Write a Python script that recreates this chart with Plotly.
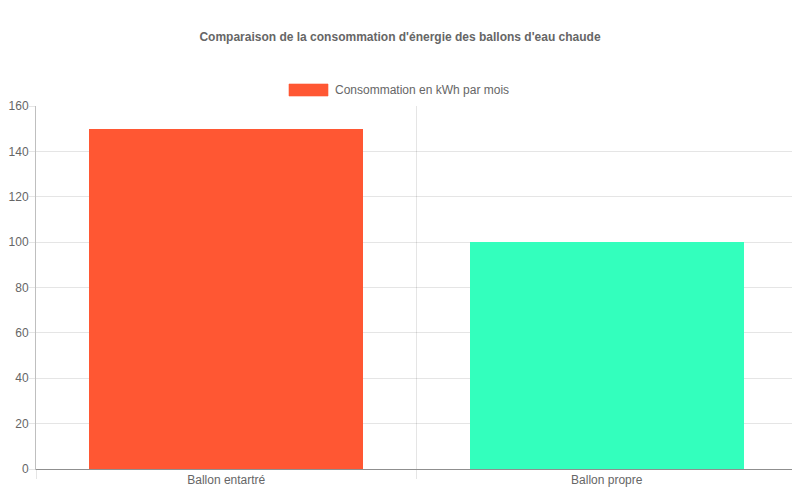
import plotly.graph_objects as go

categories = ["Ballon entartré", "Ballon propre"]
consumption = [150, 100]
bar_colors = ["#FF5733", "#33FFBD"]
series_name = "Consommation en kWh par mois"
title_text = "Comparaison de la consommation d'énergie des ballons d'eau chaude"

# page body adds an 8px margin, so shift everything by that
OFF = 8
W, H = 800, 500
# plot area wanted on screen: x 36..797, y 106..469
L, T = 36 - OFF, 106 - OFF
pw, ph = 761, 363
R, B = W - L - pw, H - T - ph

def px_x(p):
    return (p - OFF - L) / pw

def px_y(p):
    return (T + ph - (p - OFF)) / ph

grid = "rgba(0,0,0,0.1)"
axis_dark = "rgba(0,0,0,0.25)"

fig = go.Figure()
fig.add_trace(go.Bar(
    x=categories, y=consumption, name=series_name,
    marker=dict(color=bar_colors, line=dict(width=0)),
    width=0.72, showlegend=False,
))

# chart.js-like legend: wide colour box + label
fig.add_shape(type="rect", xref="paper", yref="paper",
              x0=px_x(289), x1=px_x(328), y0=px_y(96), y1=px_y(84),
              fillcolor=bar_colors[0], line=dict(width=1, color="rgba(255,87,51,0.6)"))
fig.add_annotation(text=series_name, xref="paper", yref="paper",
                   x=px_x(333), y=px_y(90), xanchor="left", yanchor="middle",
                   showarrow=False, font=dict(size=12, color="#666"))

# last category boundary line on the right edge
fig.add_shape(type="line", xref="paper", yref="paper",
              x0=0.999, x1=0.999, y0=px_y(478), y1=1,
              line=dict(color=grid, width=1))

fig.update_layout(
    width=W, height=H,
    margin=dict(l=L, r=R, t=T, b=B, autoexpand=False),
    paper_bgcolor="white", plot_bgcolor="white",
    font=dict(family="Liberation Sans, Arial, sans-serif", size=12, color="#666"),
    title=dict(text="<b>" + title_text + "</b>", x=(400 - OFF) / W, xanchor="center",
               y=1 - (37 - OFF) / H, yanchor="middle", font=dict(size=12, color="#666")),
    showlegend=False,
    bargap=0,
)
fig.update_xaxes(
    automargin=False,
    tickson="boundaries", ticks="outside", ticklen=9, tickcolor=grid,
    showgrid=True, gridcolor=grid, gridwidth=1,
    showline=True, linecolor=axis_dark, mirror=False,
    tickfont=dict(size=12, color="#666"),
)
fig.update_yaxes(
    automargin=False,
    range=[0, 160], dtick=20, ticks="outside", ticklen=6, tickcolor=grid,
    ticklabelstandoff=-2,
    showgrid=True, gridcolor=grid, gridwidth=1,
    zeroline=True, zerolinecolor=axis_dark, zerolinewidth=1,
    showline=True, linecolor=axis_dark,
    tickfont=dict(size=12, color="#666"),
)
fig.write_html("out.html")
